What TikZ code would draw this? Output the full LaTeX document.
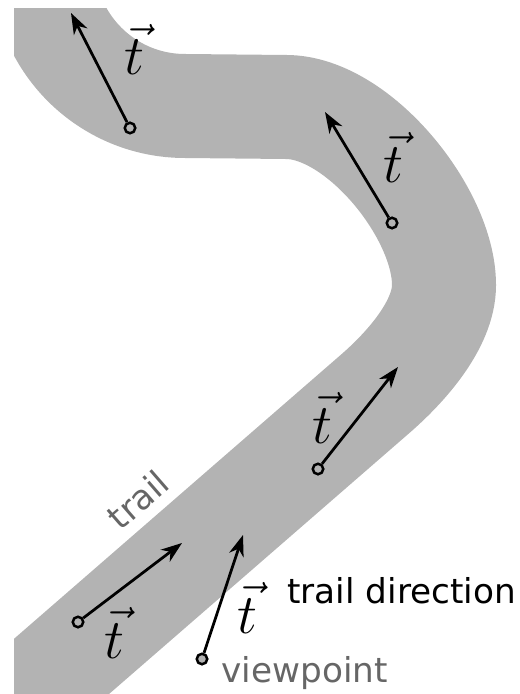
\RequirePackage{fix-cm}
\documentclass[tikz,border=0pt]{standalone}
\usepackage{fontspec}
\newfontfamily\labelfont{DejaVu Sans}
\usetikzlibrary{arrows.meta}
\definecolor{trailc}{RGB}{179,179,179}
\definecolor{notec}{RGB}{102,102,102}
\tikzset{
  trail/.style={draw=trailc, line width=20.8mm},
  spot/.style={draw, circle, fill=trailc, line width=0.5mm, minimum size=2.1mm, inner sep=0pt},
  tdir/.style={-{Stealth[length=4.2mm, width=3mm, inset=1.3mm]}, line width=0.55mm},
  tvec/.style={anchor=base west, inner sep=0pt, font=\fontsize{32}{38}\selectfont},
  txt/.style={inner sep=0pt, font=\labelfont\fontsize{19.5}{23}\selectfont}
}
\begin{document}
\begin{tikzpicture}[x=0.2mm, y=-0.2mm]
  \useasboundingbox (0,0) rectangle (519,694);
  % the trail, cut off at the frame
  \begin{scope}
    \clip (14,9) rectangle (519,694);
    \draw[trail] (43,-36) arc[start angle=180, end angle=90, radius=142] -- (286,107)
      .. controls (358,107) and (444,213) .. (444,285)
      .. controls (444,325) and (405,368) .. (375,394) -- (-60,772);
  \end{scope}

  % sample points along the trail and the viewpoint
  \node[spot] (p1) at (130,128) {};
  \node[spot] (p2) at (392,223) {};
  \node[spot] (p3) at (318,469) {};
  \node[spot] (p4) at (78,622) {};
  \node[spot] (view) at (202,659) {};

  \coordinate (d1) at (71,13);
  \coordinate (d2) at (325,112);
  \coordinate (d3) at (398,367);
  \coordinate (d4) at (182,543);
  \coordinate (dv) at (243,535);

  \foreach \p/\d in {p1/d1, p2/d2, p3/d3, p4/d4, view/dv}
    \draw[tdir] (\p) -- (\d);

  \node[tvec] (t1) at (124,75) {$\vec t$};
  \node[tvec] (t2) at (383,183) {$\vec t$};
  \node[tvec] (t3) at (312,443) {$\vec t$};
  \node[tvec] (t4) at (104,658) {$\vec t$};
  \node[tvec] (tv) at (237,633) {$\vec t$};

  \node[txt, anchor=base west] (dir) at (287,603) {trail direction};
  \node[txt, anchor=base west, text=notec] (vlab) at (221,682) {viewpoint};
  \node[txt, text=notec, rotate=41] (tlab) at (138,500) {trail};
\end{tikzpicture}
\end{document}
